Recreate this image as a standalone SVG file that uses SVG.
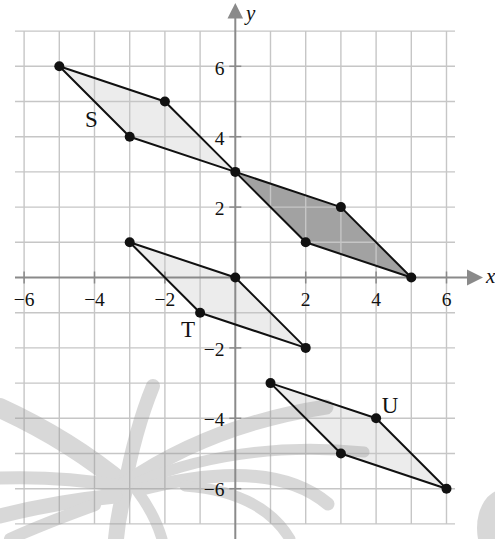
<svg xmlns="http://www.w3.org/2000/svg" width="495" height="539" viewBox="0 0 495 539">
<style>
.grid line{stroke:#c6c6c6;stroke-width:1.4}
.axis{stroke:#8a8a8a;stroke-width:2}
.tick{stroke:#8a8a8a;stroke-width:1.5}
.ah{fill:#8a8a8a}
.light{fill:#ececec}
.dark{fill:#a2a2a2}
.edge{fill:none;stroke:#111;stroke-width:2;stroke-linejoin:round}
.pt{fill:#111}
.num{font-family:"Liberation Serif","Times New Roman",serif;font-size:19.5px;fill:#111}
.lbl{font-family:"Liberation Serif","Times New Roman",serif;font-size:23px;fill:#111;text-anchor:middle}
.var{font-family:"Liberation Serif","Times New Roman",serif;font-size:21px;font-style:italic;fill:#111}
.wm path{fill:none;stroke:#9a9a9a;stroke-linecap:round}
</style>
<rect width="495" height="539" fill="#fff"/>

<g id="fills">
<polygon class="light" points="59.3,66.3 164.9,101.5 235.3,171.9 129.7,136.7"/>
<polygon class="dark" points="235.3,171.9 340.9,207.1 411.3,277.5 305.7,242.3"/>
<polygon class="light" points="129.7,242.3 235.3,277.5 305.7,347.9 200.1,312.7"/>
<polygon class="light" points="270.5,383.1 376.1,418.3 446.5,488.7 340.9,453.5"/>
</g>

<g id="grid" class="grid">
<line x1="24.1" y1="31.1" x2="24.1" y2="523.9"/>
<line x1="59.3" y1="31.1" x2="59.3" y2="523.9"/>
<line x1="94.5" y1="31.1" x2="94.5" y2="523.9"/>
<line x1="129.7" y1="31.1" x2="129.7" y2="523.9"/>
<line x1="164.9" y1="31.1" x2="164.9" y2="523.9"/>
<line x1="200.1" y1="31.1" x2="200.1" y2="523.9"/>
<line x1="270.5" y1="31.1" x2="270.5" y2="523.9"/>
<line x1="305.7" y1="31.1" x2="305.7" y2="523.9"/>
<line x1="340.9" y1="31.1" x2="340.9" y2="523.9"/>
<line x1="376.1" y1="31.1" x2="376.1" y2="523.9"/>
<line x1="411.3" y1="31.1" x2="411.3" y2="523.9"/>
<line x1="446.5" y1="31.1" x2="446.5" y2="523.9"/>
<line x1="15" y1="31.1" x2="455" y2="31.1"/>
<line x1="15" y1="66.3" x2="455" y2="66.3"/>
<line x1="15" y1="101.5" x2="455" y2="101.5"/>
<line x1="15" y1="136.7" x2="455" y2="136.7"/>
<line x1="15" y1="171.9" x2="455" y2="171.9"/>
<line x1="15" y1="207.1" x2="455" y2="207.1"/>
<line x1="15" y1="242.3" x2="455" y2="242.3"/>
<line x1="15" y1="312.7" x2="455" y2="312.7"/>
<line x1="15" y1="347.9" x2="455" y2="347.9"/>
<line x1="15" y1="383.1" x2="455" y2="383.1"/>
<line x1="15" y1="418.3" x2="455" y2="418.3"/>
<line x1="15" y1="453.5" x2="455" y2="453.5"/>
<line x1="15" y1="488.7" x2="455" y2="488.7"/>
<line x1="15" y1="523.9" x2="455" y2="523.9"/>
</g>

<g id="watermark" class="wm" opacity="0.38">
<path d="M0,408 Q70,440 125,486" stroke-width="20"/>
<path d="M153,386 Q135,430 124,490" stroke-width="14"/>
<path d="M125,484 Q210,425 326,407" stroke-width="15"/>
<path d="M138,482 Q240,440 364,452" stroke-width="11"/>
<path d="M138,490 Q270,455 328,504" stroke-width="13"/>
<path d="M185,486 Q262,492 290,539" stroke-width="11"/>
<path d="M125,490 Q118,515 116,539" stroke-width="16"/>
<path d="M138,492 Q155,515 162,539" stroke-width="11"/>
<path d="M120,486 Q60,476 0,478" stroke-width="13"/>
<path d="M115,496 Q55,502 0,516" stroke-width="15"/>
<path d="M95,505 Q40,525 10,539" stroke-width="12"/>
<ellipse cx="502" cy="528" rx="25" ry="38" fill="#9a9a9a"/>
</g>

<g id="axes">
<line class="axis" x1="15" y1="277.5" x2="468" y2="277.5"/>
<polygon class="ah" points="483,277.5 467,269.5 467,285.5"/>
<line class="axis" x1="235.3" y1="18" x2="235.3" y2="539"/>
<polygon class="ah" points="235.3,3 227.5,18.5 243.1,18.5"/>
<line class="tick" x1="24.1" y1="271.5" x2="24.1" y2="283.5"/>
<line class="tick" x1="94.5" y1="271.5" x2="94.5" y2="283.5"/>
<line class="tick" x1="164.9" y1="271.5" x2="164.9" y2="283.5"/>
<line class="tick" x1="305.7" y1="271.5" x2="305.7" y2="283.5"/>
<line class="tick" x1="376.1" y1="271.5" x2="376.1" y2="283.5"/>
<line class="tick" x1="446.5" y1="271.5" x2="446.5" y2="283.5"/>
<line class="tick" x1="229.3" y1="66.3" x2="241.3" y2="66.3"/>
<line class="tick" x1="229.3" y1="136.7" x2="241.3" y2="136.7"/>
<line class="tick" x1="229.3" y1="207.1" x2="241.3" y2="207.1"/>
<line class="tick" x1="229.3" y1="347.9" x2="241.3" y2="347.9"/>
<line class="tick" x1="229.3" y1="418.3" x2="241.3" y2="418.3"/>
<line class="tick" x1="229.3" y1="488.7" x2="241.3" y2="488.7"/>
<text class="num" x="24.1" y="305.5" text-anchor="middle">−6</text>
<text class="num" x="94.5" y="305.5" text-anchor="middle">−4</text>
<text class="num" x="164.9" y="305.5" text-anchor="middle">−2</text>
<text class="num" x="305.7" y="305.5" text-anchor="middle">2</text>
<text class="num" x="376.1" y="305.5" text-anchor="middle">4</text>
<text class="num" x="446.5" y="305.5" text-anchor="middle">6</text>
<text class="num" x="224.5" y="74.8" text-anchor="end">6</text>
<text class="num" x="224.5" y="145" text-anchor="end">4</text>
<text class="num" x="224.5" y="215.3" text-anchor="end">2</text>
<text class="num" x="224.5" y="355.8" text-anchor="end">−2</text>
<text class="num" x="224.5" y="426" text-anchor="end">−4</text>
<text class="num" x="224.5" y="496.3" text-anchor="end">−6</text>
<text class="var" x="246" y="20">y</text>
<text class="var" x="486" y="283">x</text>
</g>

<g id="shape-S">
<polygon class="edge" points="59.3,66.3 164.9,101.5 235.3,171.9 129.7,136.7"/>
<circle class="pt" cx="59.3" cy="66.3" r="5"/>
<circle class="pt" cx="164.9" cy="101.5" r="5"/>
<circle class="pt" cx="129.7" cy="136.7" r="5"/>
<text class="lbl" x="91.5" y="126.5">S</text>
</g>

<g id="shape-image">
<polygon class="edge" points="235.3,171.9 340.9,207.1 411.3,277.5 305.7,242.3"/>
<circle class="pt" cx="235.3" cy="171.9" r="5"/>
<circle class="pt" cx="340.9" cy="207.1" r="5"/>
<circle class="pt" cx="305.7" cy="242.3" r="5"/>
<circle class="pt" cx="411.3" cy="277.5" r="5"/>
</g>

<g id="shape-T">
<polygon class="edge" points="129.7,242.3 235.3,277.5 305.7,347.9 200.1,312.7"/>
<circle class="pt" cx="129.7" cy="242.3" r="5"/>
<circle class="pt" cx="235.3" cy="277.5" r="5"/>
<circle class="pt" cx="305.7" cy="347.9" r="5"/>
<circle class="pt" cx="200.1" cy="312.7" r="5"/>
<text class="lbl" x="188" y="337">T</text>
</g>

<g id="shape-U">
<polygon class="edge" points="270.5,383.1 376.1,418.3 446.5,488.7 340.9,453.5"/>
<circle class="pt" cx="270.5" cy="383.1" r="5"/>
<circle class="pt" cx="376.1" cy="418.3" r="5"/>
<circle class="pt" cx="446.5" cy="488.7" r="5"/>
<circle class="pt" cx="340.9" cy="453.5" r="5"/>
<text class="lbl" x="390" y="413">U</text>
</g>
</svg>
